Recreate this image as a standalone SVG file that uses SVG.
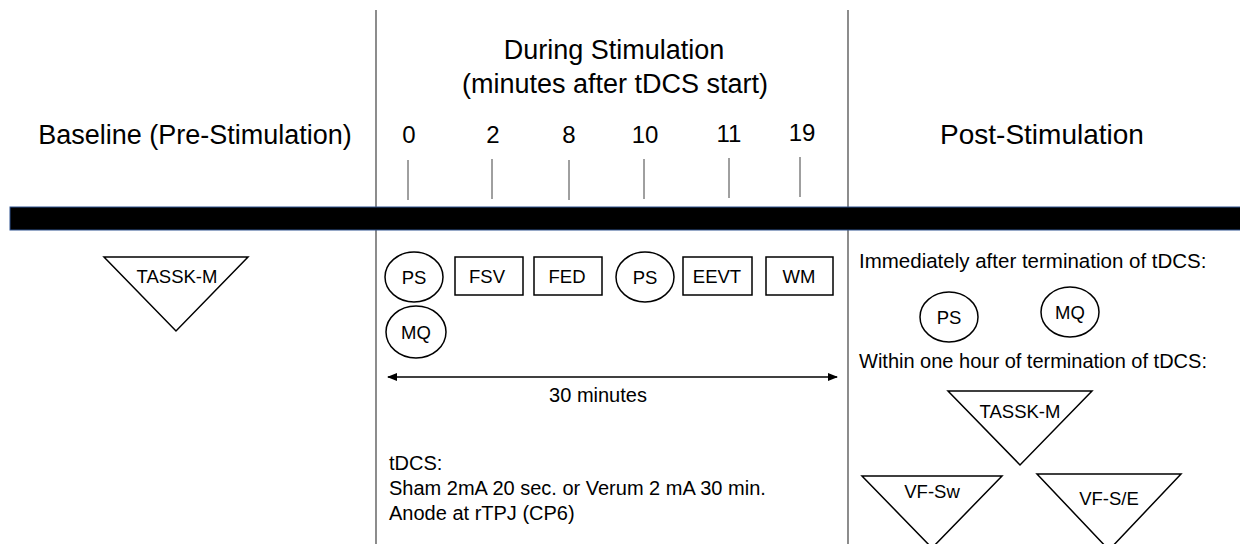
<svg xmlns="http://www.w3.org/2000/svg" width="1240" height="544" viewBox="0 0 1240 544">
<style>
text{font-family:"Liberation Sans",Arial,sans-serif;fill:#000}
.h{font-size:27px;text-anchor:middle}
.n{font-size:24px;text-anchor:middle}
.l{font-size:18.5px;text-anchor:middle}
.b{font-size:20px}
.shape{fill:#fff;stroke:#000;stroke-width:1.5}
.vl{stroke:#404040;stroke-width:1.2}
.tick{stroke:#404040;stroke-width:1}
</style>
<defs>
<marker id="ah" viewBox="0 0 10 10" refX="9" refY="5" markerWidth="7" markerHeight="7" orient="auto-start-reverse" markerUnits="strokeWidth">
<path d="M0,1 L10,5 L0,9 Z" fill="#000"/>
</marker>
</defs>
<rect width="1240" height="544" fill="#fff"/>
<g id="dividers">
<line class="vl" x1="376" y1="10" x2="376" y2="544"/>
<line class="vl" x1="848" y1="10" x2="848" y2="544"/>
</g>
<g id="headers">
<text class="h" x="195" y="144">Baseline (Pre-Stimulation)</text>
<text class="h" x="614" y="59">During Stimulation</text>
<text class="h" x="615" y="93">(minutes after tDCS start)</text>
<text class="h" x="1042" y="144" style="font-size:28px">Post-Stimulation</text>
</g>
<g id="timeline">
<text class="n" x="409" y="143">0</text>
<text class="n" x="493" y="143">2</text>
<text class="n" x="569" y="143">8</text>
<text class="n" x="645" y="143">10</text>
<text class="n" x="729" y="142">11</text>
<text class="n" x="802" y="141">19</text>
<line class="tick" x1="408" y1="160" x2="408" y2="200"/>
<line class="tick" x1="492" y1="159" x2="492" y2="199"/>
<line class="tick" x1="569" y1="160" x2="569" y2="200"/>
<line class="tick" x1="644" y1="159" x2="644" y2="199"/>
<line class="tick" x1="729" y1="158" x2="729" y2="198"/>
<line class="tick" x1="800" y1="157" x2="800" y2="197"/>
<rect x="10" y="207" width="1232" height="23" fill="#000" stroke="#2F528F" stroke-width="1"/>
</g>
<g id="baseline-tassk">
<polygon class="shape" points="104,257 248,257 176,331"/>
<text class="l" x="177" y="283">TASSK-M</text>
</g>
<g id="ps1"><ellipse class="shape" cx="414" cy="277" rx="29" ry="25"/><text class="l" x="414" y="284">PS</text></g>
<g id="fsv"><rect class="shape" x="455" y="257" width="68" height="38"/><text class="l" x="487" y="283">FSV</text></g>
<g id="fed"><rect class="shape" x="534" y="257" width="68" height="38"/><text class="l" x="567" y="283">FED</text></g>
<g id="ps2"><ellipse class="shape" cx="645" cy="277" rx="29" ry="25"/><text class="l" x="645" y="284">PS</text></g>
<g id="eevt"><rect class="shape" x="683" y="257" width="69" height="38"/><text class="l" x="717" y="283">EEVT</text></g>
<g id="wm"><rect class="shape" x="766" y="257" width="67" height="38"/><text class="l" x="799" y="283">WM</text></g>
<g id="mq1"><ellipse class="shape" cx="416" cy="332" rx="30" ry="26"/><text class="l" x="416" y="339">MQ</text></g>
<g id="connectors">
<line x1="388" y1="377" x2="837" y2="377" stroke="#000" stroke-width="1.5" marker-start="url(#ah)" marker-end="url(#ah)"/>
</g>
<g id="duration">
<text class="b" x="598" y="402" text-anchor="middle">30 minutes</text>
</g>
<g id="tdcs-info">
<text class="b" x="389" y="470">tDCS:</text>
<text class="b" x="389" y="495">Sham 2mA 20 sec. or Verum 2 mA 30 min.</text>
<text class="b" x="389" y="520">Anode at rTPJ (CP6)</text>
</g>
<g id="post-immediate">
<text class="b" x="859" y="268" style="font-size:20.5px">Immediately after termination of tDCS:</text>
</g>
<g id="ps3"><ellipse class="shape" cx="949" cy="317" rx="29" ry="25"/><text class="l" x="949" y="324">PS</text></g>
<g id="mq2"><ellipse class="shape" cx="1070" cy="312" rx="29" ry="25"/><text class="l" x="1070" y="319">MQ</text></g>
<g id="post-hour">
<text class="b" x="859" y="368">Within one hour of termination of tDCS:</text>
</g>
<g id="tassk-post"><polygon class="shape" points="948,391 1092,391 1020,465"/><text class="l" x="1020" y="418">TASSK-M</text></g>
<g id="vf-sw"><polygon class="shape" points="862,476 1002,476 932,548"/><text class="l" x="932" y="498">VF-Sw</text></g>
<g id="vf-se"><polygon class="shape" points="1037,474 1181,474 1109,550"/><text class="l" x="1109" y="505">VF-S/E</text></g>
</svg>
